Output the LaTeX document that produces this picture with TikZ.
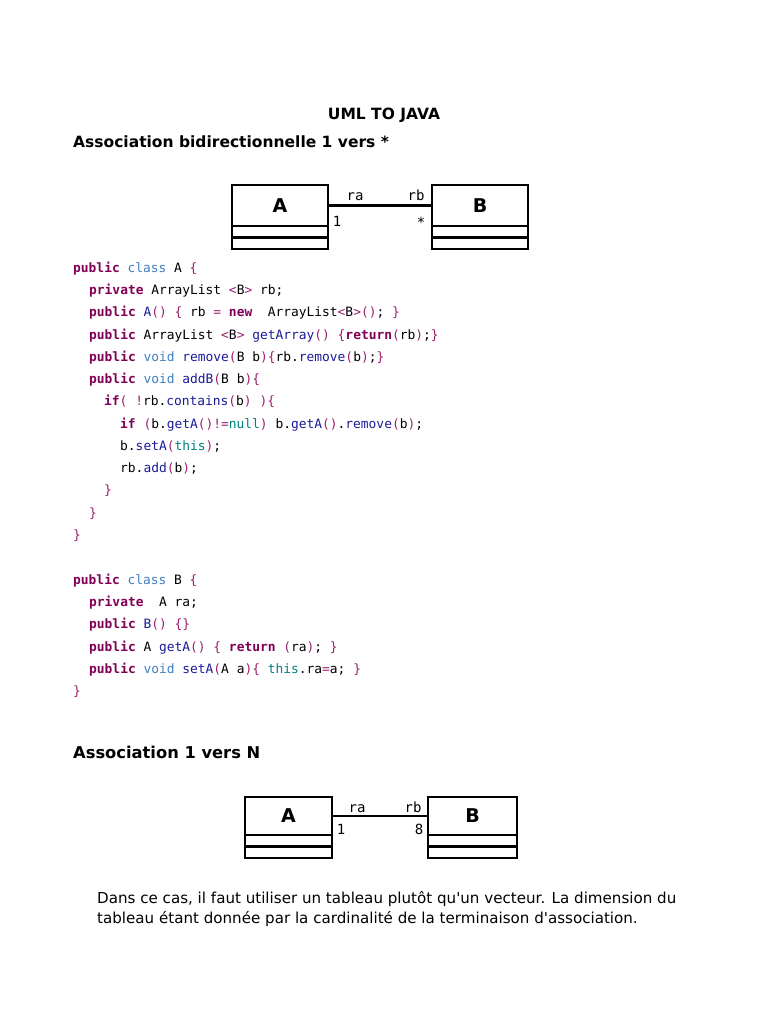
\documentclass[tikz,border=0pt]{standalone}
\usepackage{fontspec}
\setmainfont[Ligatures=NoCommon]{DejaVu Sans}
\newfontfamily\codefont{DejaVu Sans Mono}
\usepackage{xcolor}
\usetikzlibrary{positioning}
\definecolor{kwcol}{HTML}{7F0055}
\definecolor{tycol}{HTML}{3F7FBF}
\definecolor{fncol}{HTML}{1A1A99}
\definecolor{pucol}{HTML}{9C1F6F}
\definecolor{litcol}{HTML}{008080}
\newcommand{\kw}[1]{\textcolor{kwcol}{\bfseries #1}}
\newcommand{\ty}[1]{\textcolor{tycol}{#1}}
\newcommand{\fn}[1]{\textcolor{fncol}{#1}}
\newcommand{\pu}[1]{\textcolor{pucol}{#1}}
\newcommand{\lit}[1]{\textcolor{litcol}{#1}}
\newcommand{\apos}{\textquotesingle}
\begin{document}
\begin{tikzpicture}[
        x=1pt, y=-1pt,
        code/.style={anchor=base west, inner sep=0pt, font=\codefont\fontsize{12.9}{15}\selectfont},
        heading/.style={anchor=base west, inner sep=0pt, font=\bfseries\fontsize{15.5}{17}\selectfont},
        para/.style={anchor=base west, inner sep=0pt, font=\fontsize{15.1}{17}\selectfont},
        classname/.style={draw, line width=2.8pt, inner sep=0pt, outer sep=0pt, font=\bfseries\fontsize{19}{20}\selectfont},
        compart/.style={draw, line width=2.8pt, inner sep=0pt, outer sep=0pt, minimum height=11.5pt},
        role/.style={inner sep=0pt, anchor=base, font=\codefont\fontsize{14}{15}\selectfont},
        assoc/.style={line width=2.6pt}
    ]
    \useasboundingbox (0,0) rectangle (768,1024);

    % Titles
    \node[anchor=base, inner sep=0pt, font=\bfseries\fontsize{15.5}{17}\selectfont] (title) at (384,120) {UML TO JAVA};
    \node[heading] (h1) at (73,148) {Association bidirectionnelle 1 vers *};

    % First diagram
    \node[classname, minimum width=96pt, minimum height=41pt] (ca) at (280,205.5) {A};
    \node[compart, minimum width=96pt, below=0pt of ca] (ca1) {};
    \node[compart, minimum width=96pt, below=0pt of ca1] (ca2) {};
    \node[classname, minimum width=96pt, minimum height=41pt] (cb) at (480,205.5) {B};
    \node[compart, minimum width=96pt, below=0pt of cb] (cb1) {};
    \node[compart, minimum width=96pt, below=0pt of cb1] (cb2) {};
    \draw[assoc] (ca) -- (cb);
    \node[role] (ra1) at (355,201) {ra};
    \node[role] (rb1) at (416,201) {rb};
    \node[role] (ma1) at (337,226) {1};
    \node[role] (mb1) at (421,228) {*};

    % Class A code
    \node[code] (a1) at (73,272) {\kw{public} \ty{class} A \pu{\{}};
    \node[code] (a2) at (89,294) {\kw{private} ArrayList \pu{<}B\pu{>} rb;};
    \node[code] (a3) at (89,316) {\kw{public} \fn{A}\pu{()} \pu{\{} rb \pu{=} \kw{new}~ ArrayList\pu{<}B\pu{>()}; \pu{\}}};
    \node[code] (a4) at (89,339) {\kw{public} ArrayList \pu{<}B\pu{>} \fn{getArray}\pu{()} \pu{\{}\kw{return}\pu{(}rb\pu{)};\pu{\}}};
    \node[code] (a5) at (89,361) {\kw{public} \ty{void} \fn{remove}\pu{(}B b\pu{)\{}rb.\fn{remove}\pu{(}b\pu{)};\pu{\}}};
    \node[code] (a6) at (89,383) {\kw{public} \ty{void} \fn{addB}\pu{(}B b\pu{)\{}};
    \node[code] (a7) at (104,405) {\kw{if}\pu{(} \pu{!}rb.\fn{contains}\pu{(}b\pu{)} \pu{)\{}};
    \node[code] (a8) at (120,428) {\kw{if} \pu{(}b.\fn{getA}\pu{()!=}\lit{null}\pu{)} b.\fn{getA}\pu{()}.\fn{remove}\pu{(}b\pu{)};};
    \node[code] (a9) at (120,450) {b.\fn{setA}\pu{(}\lit{this}\pu{)};};
    \node[code] (a10) at (120,472) {rb.\fn{add}\pu{(}b\pu{)};};
    \node[code] (a11) at (104,494) {\pu{\}}};
    \node[code] (a12) at (89,517) {\pu{\}}};
    \node[code] (a13) at (73,539) {\pu{\}}};

    % Class B code
    \node[code] (b1) at (73,584) {\kw{public} \ty{class} B \pu{\{}};
    \node[code] (b2) at (89,606) {\kw{private}~ A ra;};
    \node[code] (b3) at (89,628) {\kw{public} \fn{B}\pu{()} \pu{\{\}}};
    \node[code] (b4) at (89,651) {\kw{public} A \fn{getA}\pu{()} \pu{\{} \kw{return} \pu{(}ra\pu{)}; \pu{\}}};
    \node[code] (b5) at (89,673) {\kw{public} \ty{void} \fn{setA}\pu{(}A a\pu{)\{} \lit{this}.ra\pu{=}a; \pu{\}}};
    \node[code] (b6) at (73,695) {\pu{\}}};

    % Second diagram
    \node[heading, font=\bfseries\fontsize{16.3}{17}\selectfont] (h2) at (73,758) {Association 1 vers N};
    \node[classname, minimum width=87pt, minimum height=38pt] (da) at (288.5,816) {A};
    \node[compart, minimum width=87pt, below=0pt of da] (da1) {};
    \node[compart, minimum width=87pt, below=0pt of da1] (da2) {};
    \node[classname, minimum width=89pt, minimum height=38pt] (db) at (472.5,816) {B};
    \node[compart, minimum width=89pt, below=0pt of db] (db1) {};
    \node[compart, minimum width=89pt, below=0pt of db1] (db2) {};
    \draw[assoc] (da) -- (db);
    \node[role] (ra2) at (357,812) {ra};
    \node[role] (rb2) at (413,812) {rb};
    \node[role] (ma2) at (341,834) {1};
    \node[role] (mb2) at (419,834) {8};

    % Paragraph
    \node[para] (p1) at (97,903) {Dans ce cas, il faut utiliser un tableau plutôt qu\apos un vecteur. La dimension du};
    \node[para] (p2) at (97,923) {tableau étant donnée par la cardinalité de la terminaison d\apos association.};
\end{tikzpicture}
\end{document}
